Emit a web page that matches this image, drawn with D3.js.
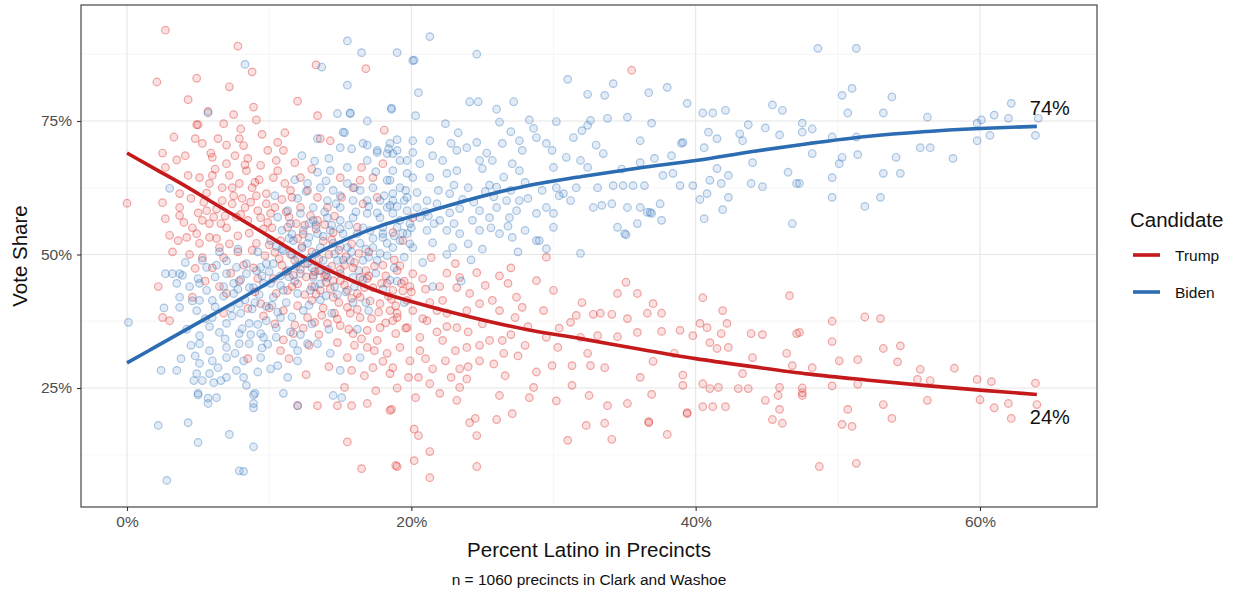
<!DOCTYPE html>
<html>
<head>
<meta charset="utf-8">
<script src="https://cdn.jsdelivr.net/npm/d3@7"></script>
<style>
  body { margin: 0; background: #fff; }
  svg text { font-family: "Liberation Sans", Arial, sans-serif; }
</style>
</head>
<body>
<div id="chart"></div>
<script>
// ------------------------------------------------------------------
//  Vote share vs percent Latino, precinct scatter with smoothed fits
// ------------------------------------------------------------------

const candidates = ["Trump", "Biden"]

// [percent latino, vote share] per precinct
const trumpPoints = [
  [0,59.6],[2.1,82.3],[2.7,92],[2.5,69],[3.5,67.7],[2.7,66.3],[2.5,59.7],[3.7,61.4],[3.7,58.8],[3.7,57.3],[2.7,56.7],[3,53.6],[3.6,52.6],[4.2,53.2],[4.3,64.8],[4.9,74.3],[4.3,79],[4.9,83],[4.8,71.7],[4.9,53.9],[4.8,47.4],[4.6,42],[3,37.6],[2.5,38.2],[2.2,44],[3.2,50.5],[4.0,56],[4.5,60.5],[4.1,68.5],[3.3,72],
  [5.3,70.8],[6.4,71.7],[6,68.2],[7,67],[7.9,71.7],[8.2,70.4],[7.6,68.5],[8.4,65.7],[9.4,66.7],[9.9,69.5],[5.1,64.4],[5.8,63.3],[6.7,62.5],[7.9,63.3],[8.8,62.5],[9.1,61],[9.8,61.4],[9.8,59.5],[8.3,58.8],[7.4,59.5],[6.7,60.1],[5.6,58.2],[5.3,56.4],[5.8,55.8],[5.8,53.2],[5.1,52.1],[6.5,51.3],[6.8,49.4],[5.3,49.4],[8.5,56.4],[9.4,56.9],[9.1,52.1],[7,42.7],[8.5,39.9],[9.4,40.8],[8.5,30.5],[7.8,89],[7.2,81.4],[8.8,84.2],[8.9,77.6],[9.1,75.2],[5,74.3],[5.7,76.8],[6.8,74.5],[7.5,76.2],[8.0,73.5],[9.5,72.5],[6.2,66.0],[7.2,64.8],[8.1,60.5],[6.1,57.0],[7.0,55.0],[7.8,53.5],[8.6,54.0],[9.6,54.8],[6.0,47.5],[7.3,46.5],[8.2,48.0],[9.2,45.5],[5.5,45.0],[6.5,44.0],[7.8,50.5],[8.8,50.8],[9.7,49.8],[9.0,43.0],[6.8,39.0],[5.6,61.5],[9.3,64.0],[8.5,68.0],[7.0,70.5],[5.9,69.0],[6.3,53.0],
  [6.3,58.5],[6.9,57.2],[7.5,61.0],[8.0,57.5],[8.7,59.8],[9.2,58.2],[9.9,56.0],[7.9,45.0],[7.2,52.0],[6.6,55.8],[9.0,63.5],[8.3,66.8],[7.4,62.5],[6.0,64.8],[5.4,59.8],[4.6,55.0],[4.4,50.0],[5.0,57.8],[7.7,57.0],[8.9,47.5],[9.6,38.5],
  [10.6,71],[11.1,72.8],[10.5,67.6],[10.6,65.7],[11.8,67.2],[13.4,76],[13.6,71.7],[14.3,71.3],[10.1,57.7],[11.3,55.1],[10.8,52.6],[10.4,50.4],[10.3,64.4],[11.1,63.3],[11.6,60.7],[12.2,64.4],[12.7,62],[13.4,60.7],[12.2,58.8],[14.1,58.8],[13.4,56.4],[14.5,54.1],[12.7,48.3],[13.6,47],[14.5,45.1],[13.6,43.3],[14.5,42],[13,41.4],[12.7,38.2],[13.2,37.3],[14.1,37.1],[11.7,35.2],[10.8,32],[12,40.4],[10.5,42.7],[11.3,43.3],[10.3,45.5],[11.7,46.1],[13.1,46.1],[12,21.7],[13.4,21.7],[14.8,21.7],[12,78.7],[13.3,85.5],[11.2,58.0],[12.5,55.5],[13.8,52.5],[11.5,50.0],[12.3,51.5],[14.2,50.0],[10.9,48.0],[12.0,44.5],[13.0,44.0],[14.0,44.8],[11.0,39.5],[12.5,42.5],[13.8,40.0],[14.6,39.0],[11.8,36.8],[13.5,35.0],[14.8,33.5],[12.8,33.0],[10.4,37.0],[11.4,30.5],[14.2,29.0],[12.6,27.5],[13.2,46.8],[14.4,47.8],[11.6,44.0],[12.2,47.2],[10.2,55.0],[14.6,57.2],[13.0,66.0],[11.0,69.5],
  [10.4,58.8],[10.9,60.3],[11.4,57.0],[11.9,55.8],[12.4,53.8],[12.9,57.3],[13.3,54.8],[13.9,55.6],[14.4,52.8],[14.9,50.8],[10.0,51.8],[10.7,49.2],[11.2,46.8],[11.8,48.9],[12.6,45.8],[13.3,42.6],[13.9,45.9],[14.3,43.6],[14.9,41.0],[13.7,38.6],[12.4,36.2],[14.8,37.9],[11.0,34.0],[10.0,40.0],[11.5,62.0],[12.0,53.0],[13.0,50.5],[13.5,49.2],[14.0,46.2],
  [15,64.4],[15.9,62.5],[15.1,60.7],[16.6,59.5],[16.4,63.9],[17.3,64.4],[17.6,60.7],[16.2,55.1],[18.7,54.1],[19.4,52.6],[20.1,56.9],[18,67],[16.5,66.3],[18.1,73.3],[15.5,43.3],[16.4,42],[15.7,39],[16.4,38.2],[15,36.7],[16.9,35.8],[15.9,35.2],[17.8,36.3],[18.7,37.6],[18.9,35.2],[17.6,33.9],[16.9,32.6],[18.3,31.5],[19.2,32.6],[19.9,30.1],[18.7,28.8],[17.3,28.8],[16.7,27.3],[18.5,27.7],[19.8,27],[15.8,28.3],[15.3,25.1],[18.5,20.8],[16.9,22.1],[15.8,21.7],[15,45.1],[16.4,45.7],[17.3,43.8],[18.7,43.3],[19.7,41.4],[17.8,40.8],[15.5,40.1],[16.2,42.7],[15.5,30.7],[15.5,14.9],[16.5,9.9],[18.9,10.5],[16.8,84.8],[15.3,48.0],[16.8,47.0],[18.2,46.0],[19.5,45.0],[17.0,50.5],[18.8,49.0],[15.8,52.0],[19.0,39.0],[17.2,38.0],[19.6,36.2],[16.0,33.0],[18.0,30.0],[19.0,25.0],[17.5,24.5],
  [15.4,49.6],[15.9,47.5],[16.3,50.2],[16.9,45.5],[17.4,47.8],[17.9,44.6],[18.4,42.2],[18.9,40.4],[19.4,43.2],[19.9,44.0],[15.3,44.3],[15.8,41.8],[16.2,39.7],[16.7,43.8],[17.1,41.3],[17.7,39.2],[18.2,37.2],[18.6,41.6],[15.6,36.0],[16.5,34.2],[17.4,32.0],[15.0,47.2],[16.0,48.5],[17.0,46.0],[18.0,48.0],[19.0,47.0],
  [21.3,41],[22.2,41.4],[22.5,39],[21.1,37.6],[19.3,44.6],[18.3,44.6],[20.1,46.4],[20.8,45.5],[19.2,47.9],[23.2,43.8],[24.1,42.7],[26.2,46],[26.8,44.6],[24.6,46.6],[23.4,45.7],[23.1,48.3],[21.4,49.4],[28.8,45.1],[30,43.3],[27.4,42],[27.8,40.1],[27.3,38.2],[29.3,39.5],[25.7,41.4],[24.8,40.8],[23.9,39.5],[23.2,36.3],[22.2,33.9],[23.1,32],[23.9,32.6],[24.8,33],[24.8,30.1],[25.5,33.9],[26.4,33.9],[26.6,27.3],[23.4,28.6],[22.4,30.1],[21.5,28.6],[21.3,25.8],[23.4,25.1],[23.9,26.7],[20.6,34.5],[20.6,32],[19.7,36.3],[19,38.2],[18.5,39.5],[20.1,39.5],[29.5,34.5],[30.3,32.6],[29.9,29.2],[28.6,25.1],[28.3,23.2],[26.2,23.6],[27.1,20.2],[26,19.1],[24.5,19.3],[24.1,18.5],[23.2,22.7],[18.6,21],[20.3,23.2],[20.5,16.1],[20.2,11.4],[19,10.3],[24.6,10.3],[21.3,8.2],[20.2,17.3],[21.3,13.1],[24.6,16.1],[22.0,44.0],[25.2,44.2],[27.0,47.5],[21.8,35.5],[25.0,37.0],[26.2,39.5],[28.2,36.5],[22.8,27.0],[25.8,29.5],[27.5,31.0],[28.8,28.0],[35.5,84.5],[29.5,49.5],
  [20.0,43.0],[21.0,43.5],[22.5,46.5],[21.8,39.5],[20.8,38.0],[22.5,36.5],[24.0,35.5],[21.0,30.5],[24.0,29.0],[20.5,27.0],[22.0,24.0],[26.5,31.5],[27.0,35.0],[28.0,33.0],
  [35.1,44.8],[34.5,42.7],[35.9,42.7],[37,40.8],[37.6,39],[36.6,39],[32.8,38.8],[33.3,39],[34.1,38.8],[35.2,38],[38.9,35.8],[39.8,34.8],[37.6,35.6],[35.9,35.4],[34.5,34.6],[33.1,34.8],[31.6,38.6],[31.2,37.3],[30.4,36.2],[32.4,31.5],[31.3,29.2],[32.6,29.2],[33.6,28.8],[36.1,27],[39.1,27.4],[39.1,25.5],[36.9,23.8],[35.2,22.1],[33.8,21.7],[32.5,23.6],[31.3,25.5],[30.2,22.6],[31,15.2],[32.3,18],[33.6,18.4],[34.1,15.4],[36.7,18.5],[38,16.3],[39.4,20.4],[31.9,34.5],[40.5,41.9],[41.9,39.5],[40.3,37.1],[40.8,36.3],[42.2,37.1],[43.9,35.2],[44.7,35],[47.1,35.2],[41.8,35.2],[41,33.5],[42.3,32.6],[41.5,32.4],[44,30.7],[46.4,31.5],[46.8,29.2],[43.3,27.7],[40.5,25.8],[41,24.9],[41.6,25.1],[43,24.9],[43.7,24.9],[45.9,25.1],[45.8,23.6],[47.5,23.6],[44.9,22.7],[45.9,21],[45.4,19.1],[46.1,18.4],[40.5,21.5],[41.2,21.5],[42.1,21.5],[39.4,20.2],[36.7,18.7],[32.0,41.0],[38.5,31.5],[37.0,30.0],[46.6,42.3],
  [49.6,37.5],[51.9,38.3],[53,38],[49.6,33.7],[53.2,32.4],[54.4,32.9],[54.2,29.9],[50.1,30.1],[51.4,30.3],[55.8,28.5],[58.2,28.7],[59.8,26.6],[60.8,26.2],[63.9,25.9],[49.6,25.4],[51.4,25.7],[53.2,21.9],[50.7,21],[53.8,19.3],[50.3,18.2],[51,17.8],[56.3,22.7],[60,22.8],[61,21.3],[62,22.1],[62.2,19.3],[64,21.9],[48.7,10.3],[51.3,10.9],[47.5,25],[47.5,24.1],[47.3,35.4],[48.2,28.8],[55.6,26.6],[56.5,26.4]
]

const bidenPoints = [
  [0.1,37.3],[2.4,28.3],[3.5,28.3],[2.2,18],[4.3,18.5],[5,14.8],[2.8,7.7],[3.2,46.4],[3.9,46.1],[2.7,46.4],[3.5,44.6],[3.7,42],[3.7,40.1],[4.9,39.5],[4.7,26.4],[3,62.4],[3.7,46.4],[2.6,40.0],[4.2,36.0],[4.5,33.0],[3.8,30.5],[4.4,44.0],[4.1,48.5],[4.8,31.0],
  [5.3,48.9],[5.1,44.6],[5.6,43.3],[5.1,41.4],[6,41.4],[7,46.4],[7.7,47.6],[8.4,48.3],[9.1,47],[9.6,44.6],[8.6,43.8],[7.5,42.7],[7.9,40.8],[6,38.2],[7,37.1],[8.6,37.1],[9.8,37.6],[9.4,35.2],[7.9,35.2],[6.5,35.4],[5.1,34.8],[5.1,33.3],[5.8,32],[7,32.6],[7.9,33.3],[8.6,33.3],[9.6,34.5],[9.4,30.7],[8.2,30.1],[7,30.7],[6,30.1],[5.1,29.6],[4.9,27.7],[5.8,27.7],[7,27],[7.7,28.3],[8.2,27],[6.3,23.2],[5,24],[5.7,22.1],[9,24],[8.9,22.1],[5,23.7],[5.7,23.1],[8.9,23.7],[8.9,21.3],[5.3,26.4],[6.1,26],[6.6,26.4],[7.2,16.3],[8.9,14],[7.9,9.5],[8.2,9.4],[9.4,47.6],[8.4,46.4],[5.6,47.6],[7.5,44.6],[8.9,43.8],[9.8,48.3],[8.3,85.6],[5.7,76.5],[6.5,50.5],[7.8,51.0],[9.2,50.5],[8.0,39.0],[9.0,41.0],[6.8,44.0],[5.8,36.5],[9.5,32.5],[6.4,28.8],[9.2,28.0],[8.4,25.5],[7.4,38.5],[6.2,45.8],
  [6.2,40.2],[6.8,42.2],[7.3,40.0],[7.8,43.5],[8.3,41.5],[8.8,39.8],[9.3,42.5],[9.8,40.3],[8.1,36.1],[8.7,35.0],[9.2,36.9],[9.9,33.2],[6.9,34.2],[7.6,31.5],[5.5,38.0],[4.6,41.3],[5.0,45.5],[6.3,48.0],[7.0,48.8],[8.0,45.3],[9.5,46.0],
  [10.5,36.3],[10.5,34.5],[10.1,28.6],[10.6,29.2],[11.3,27],[12,30.1],[12,32],[12.7,33.3],[11.7,33.3],[10.8,38.2],[11,24],[12,21.7],[14.5,23.6],[14.3,31.5],[13.4,33.3],[13.4,65.4],[14.3,65.7],[14.8,76.4],[12.7,63.3],[13.6,62.5],[14.5,62],[13.1,58.8],[12.2,57.7],[13.1,56.4],[14.1,56.9],[14.1,60.1],[11.3,58.2],[11.5,55.8],[12.4,54.5],[13.4,53.9],[14.3,54.5],[11.7,52.6],[12.7,52.1],[13.6,51.3],[14.5,52.1],[11,50.7],[12,49.4],[12.9,49.4],[13.8,48.9],[14.8,48.9],[10.3,48.3],[11.3,47],[12.2,46.4],[13.1,45.7],[14.1,45.7],[10.1,44.6],[11,43.3],[12,42.7],[12.9,43.3],[13.4,71.7],[13.7,85.1],[10.8,46.0],[11.8,45.0],[13.5,47.0],[14.6,44.0],[10.5,51.5],[11.6,53.8],[12.8,55.8],[13.9,58.0],[10.9,54.5],[12.0,60.5],[14.0,63.8],[11.2,41.0],[12.4,39.5],[13.6,41.5],[14.4,39.0],[10.2,40.5],[13.0,37.0],[14.2,36.0],[11.5,35.5],[12.6,61.8],[10.6,57.0],[14.7,59.5],[13.2,67.5],[11.8,64.0],[10.4,61.0],[12.3,68.5],
  [10.3,42.0],[10.8,44.2],[11.4,45.8],[11.9,47.8],[12.5,48.3],[13.0,47.5],[13.6,44.5],[14.1,47.2],[14.6,50.1],[10.6,39.2],[11.6,38.3],[12.2,35.0],[12.8,40.5],[13.2,44.0],[14.0,42.3],[14.8,42.5],[10.1,52.6],[10.9,51.0],[11.4,53.0],[12.3,51.2],[12.8,53.2],[13.3,55.5],[13.8,53.4],[14.4,55.5],[10.0,46.8],[11.6,50.0],[13.3,50.2],[14.2,68.0],
  [15.5,66.3],[16.9,67.6],[17.6,69.5],[18.7,68.9],[19.7,67.6],[18.5,70.8],[15,70],[15.8,69.8],[15.7,76.4],[15.3,72.8],[16.6,70.8],[15.5,63.3],[16.4,62],[17.3,62.5],[18.3,63.9],[19.2,62.5],[20.1,64.4],[19.7,60.7],[18.7,60.1],[17.8,60.1],[16.9,60.1],[15.9,60.1],[15,58.8],[15,56.4],[15.9,56.9],[16.9,57.7],[17.8,56.9],[18.7,57.7],[19.7,58.2],[15.2,53.9],[16.2,53.9],[17.1,54.5],[18,53.9],[19,55.1],[19.9,55.8],[15.5,51.3],[16.4,52.1],[17.3,51.3],[18.3,52.1],[19.2,52.6],[15.7,48.9],[16.6,48.9],[17.6,48.9],[15,46.4],[15.9,45.7],[15,28.3],[16.4,30.7],[15.1,23.2],[15.5,90],[16.5,87.8],[19,87.8],[20.1,86.3],[15.5,81.7],[18.6,77.2],[15.7,76.5],[16.9,75],[15.2,72.9],[16.9,70.5],[17.6,69.1],[18.6,77.4],[18.4,69.8],[19,69.5],[18.3,68.9],[19.2,67.6],[18.7,65.7],[18.5,63.9],[19.7,65.2],[18.3,58.8],[19.2,56.4],[18,55.1],[18,53.2],[18.7,51.3],[16.0,44.0],[17.5,46.5],[18.8,47.5],[19.5,49.5],[16.8,41.0],[18.0,43.5],[19.0,45.0],[17.0,39.5],[19.5,41.0],[16.2,36.0],
  [15.2,49.0],[15.8,50.5],[16.3,47.0],[16.8,51.0],[17.3,53.0],[17.8,50.2],[18.3,49.8],[18.8,53.5],[19.4,54.0],[19.9,52.0],[15.4,43.0],[15.9,41.0],[16.6,45.3],[15.0,54.8],[15.6,55.5],[16.1,58.0],[16.6,55.0],[17.0,59.0],[17.6,57.8],[18.1,61.0],[18.5,59.2],[19.0,59.0],[19.6,62.0],[15.0,51.5],[17.0,49.5],[18.5,45.2],[16.0,62.5],[17.5,65.5],[15.0,61.0],[19.0,71.5],
  [20.5,80.3],[24.1,78.6],[24.7,78.6],[26,77.2],[27.2,78.6],[26.2,74.8],[28.3,75.2],[21.3,90.8],[24.6,87.5],[20.2,86.4],[28.6,73.6],[28.8,71.9],[29.5,70.8],[29.9,69.5],[26.4,70.8],[27.6,71.3],[27.8,69.5],[24.6,71],[23.3,72.8],[21.3,71.3],[20.1,71.3],[20.1,69.1],[23.2,69.5],[23.9,70],[22.2,67.6],[24.8,67.6],[25.7,67.6],[27.1,67],[23.2,65.7],[22.5,65.2],[25,66.1],[27.6,65.7],[28,63.5],[20.6,67],[21.3,64.4],[28.8,57.7],[29.5,58.8],[27.4,58.2],[26.7,60.1],[27.6,60.1],[26.9,56.9],[26,58.8],[25.5,56.9],[24.8,58.2],[24.3,56.4],[23.4,58.6],[22.7,61.4],[21.9,62],[21.1,60.1],[20.4,61.6],[19.5,60.1],[18.7,61.4],[20.6,56.9],[22,56.4],[22.5,54.5],[23.4,53.9],[24.8,54.5],[26.2,53.9],[27.1,53.2],[21.1,54.5],[19.7,53.9],[20.1,51.3],[21.5,52.2],[22.9,51.3],[28.8,52.6],[29.5,51.1],[29,52.6],[30,57.7],[30,55.1],[24.0,62.5],[25.5,63.0],[26.5,64.5],[23.0,63.0],[21.0,58.0],[22.5,50.0],[25.0,51.0],[27.5,50.5],[20.8,48.5],[24.2,49.0],[23.5,45.0],[21.5,44.0],[20.3,76.0],[22.4,74.5],[25.8,60.8],
  [20.4,58.8],[21.2,57.2],[21.8,59.5],[22.7,57.8],[23.6,60.3],[24.4,59.8],[25.2,61.8],[26.0,62.6],[27.0,62.0],[28.2,60.5],[29.2,62.0],[20.0,55.0],[21.6,55.8],[23.0,55.8],[24.0,52.0],[25.6,55.0],[26.8,55.3],[28.0,54.5],[21.5,68.5],[22.8,70.8],[25.3,69.0],[27.0,73.0],
  [30.2,74.9],[31,82.8],[32.4,80],[33.6,79.8],[34.2,82],[36.7,80.3],[38,81.3],[39.4,78.3],[32.6,75.1],[33.8,75.5],[35.2,75.7],[36.9,74.6],[31.4,71.9],[32,73.2],[32.4,74.2],[30.9,68.2],[31.9,67.6],[32.4,66.3],[33.5,68.9],[36.1,71.3],[39.1,71],[38.3,68.5],[37.1,68],[36.1,67.2],[30,66.3],[30.2,62.5],[30.7,61.4],[31.6,62.5],[33.1,62.5],[34.2,62.9],[34.9,62.9],[35.6,62.9],[36.4,62.9],[37.7,64.8],[38.4,65.2],[38.9,62.9],[39.8,62.9],[32.8,58.8],[33.4,59.2],[34.1,59.5],[35.2,58.8],[36.1,58.8],[37.5,59.5],[36.6,57.9],[36.9,57.7],[34.5,55.1],[35,53.9],[35.9,55.8],[37.6,56.4],[30.4,61],[31.2,60.1],[31.9,50.2],[40.5,76.5],[41.2,76.5],[42.1,77],[43.7,74.3],[44.9,73.7],[45.4,78],[46.1,77],[45.9,72.4],[47.5,74.6],[47.5,72.9],[40.9,72.9],[41.5,71.7],[43.1,72.6],[43.3,71.3],[39,70.8],[40.6,70],[41.5,66.1],[42.3,64.8],[44,67.2],[46.5,65.4],[41,63.9],[41.8,63.3],[43.9,63.3],[44.7,62.7],[47.1,63.3],[40.8,61.4],[40.3,60.3],[42.3,60.7],[41.9,58.4],[40.6,56.7],[46.8,55.8],[35.1,53.7],[36.8,57.9],[47.3,63.3],[33.0,70.5],[34.8,66.0],
  [48.6,88.6],[51.3,88.6],[50.3,79.8],[51,81.1],[53.8,79.5],[50.7,76.5],[53.2,76.5],[56.3,75.7],[62.2,78.3],[62,75.5],[61,76.1],[60.1,75.2],[59.8,74.6],[59.8,71.3],[60.7,72.3],[64.1,75.5],[63.9,72.3],[55.8,70],[56.5,70],[58.1,68],[49.6,72],[51.3,72],[48.2,68.9],[50.3,68.2],[50.1,67],[51.4,68.7],[54.1,68.2],[49.6,64.4],[53.2,65.2],[54.4,65.2],[49.6,60.7],[53,60.7],[51.9,59],[48.2,73.5]
]

// smoothed fit
const fitX = [0, 2, 4, 6, 8, 10, 12, 14, 16, 18, 20, 24, 28, 32, 36, 40, 44, 48, 52, 56, 60, 64]
const trumpFit = [69, 66, 63, 59.8, 56.6, 53.4, 50.2, 47.3, 44.9, 42.8, 41.2, 38.4, 36.0, 34.2, 32.3, 30.5, 29.0, 27.6, 26.5, 25.5, 24.6, 23.8]
const bidenFit = [29.7, 32.7, 35.7, 38.7, 41.7, 44.8, 48.1, 51.1, 53.5, 55.5, 57.1, 60.2, 62.8, 64.6, 66.2, 67.6, 69.3, 70.8, 72.1, 73.0, 73.6, 74.0]
const endLabels = ["24%", "74%"]

const xTicks = [0, 20, 40, 60]
const xMinor = [10, 30, 50]
const yTicks = [25, 50, 75]
const yMinor = [12.5, 37.5, 62.5, 87.5]

// ------------------------------------------------------------------
const W = 1238, H = 592
const panel = { left: 81, right: 1097, top: 5, bottom: 507 }
const colors = {
    Trump: { pt: "#de2d2a", line: "#c41a1c" },
    Biden: { pt: "#3a7abd", line: "#2b6cb2" }
}

const x = d3.scaleLinear().domain([-3.236, 68.23]).range([panel.left, panel.right])
const y = d3.scaleLinear().domain([2.72, 96.72]).range([panel.bottom, panel.top])

const svg = d3.select("#chart").append("svg")
    .attr("width", W)
    .attr("height", H)

// grid
const grid = svg.append("g")
grid.selectAll(".minx").data(xMinor).enter().append("line")
    .attr("x1", d => x(d)).attr("x2", d => x(d))
    .attr("y1", panel.top).attr("y2", panel.bottom)
    .attr("stroke", "#f0f0f0").attr("stroke-width", 0.6)
grid.selectAll(".miny").data(yMinor).enter().append("line")
    .attr("y1", d => y(d)).attr("y2", d => y(d))
    .attr("x1", panel.left).attr("x2", panel.right)
    .attr("stroke", "#f0f0f0").attr("stroke-width", 0.6)
grid.selectAll(".majx").data(xTicks).enter().append("line")
    .attr("x1", d => x(d)).attr("x2", d => x(d))
    .attr("y1", panel.top).attr("y2", panel.bottom)
    .attr("stroke", "#e6e6e6").attr("stroke-width", 1.1)
grid.selectAll(".majy").data(yTicks).enter().append("line")
    .attr("y1", d => y(d)).attr("y2", d => y(d))
    .attr("x1", panel.left).attr("x2", panel.right)
    .attr("stroke", "#e6e6e6").attr("stroke-width", 1.1)

// points
const pts = svg.append("g")
function drawPoints(data, c) {
    pts.append("g").selectAll("circle").data(data).enter().append("circle")
        .attr("cx", d => x(d[0]))
        .attr("cy", d => y(d[1]))
        .attr("r", 3.8)
        .attr("fill", colors[c].pt)
        .attr("fill-opacity", 0.14)
        .attr("stroke", colors[c].pt)
        .attr("stroke-opacity", 0.4)
        .attr("stroke-width", 1.2)
}
drawPoints(trumpPoints, "Trump")
drawPoints(bidenPoints, "Biden")

// fitted lines
const line = d3.line()
    .x(d => x(d[0]))
    .y(d => y(d[1]))
    .curve(d3.curveMonotoneX)

const fits = { Trump: trumpFit, Biden: bidenFit }
candidates.forEach(function (c) {
    svg.append("path")
        .datum(fitX.map((v, i) => [v, fits[c][i]]))
        .attr("d", line)
        .attr("fill", "none")
        .attr("stroke", colors[c].line)
        .attr("stroke-width", 3.6)
})

// end labels
const last = fitX.length - 1
svg.append("text")
    .attr("x", x(fitX[last]) - 7)
    .attr("y", y(bidenFit[last]) - 11)
    .attr("font-size", 20)
    .attr("fill", "#111")
    .text(endLabels[1])
svg.append("text")
    .attr("x", x(fitX[last]) - 7)
    .attr("y", y(trumpFit[last]) + 30)
    .attr("font-size", 20)
    .attr("fill", "#111")
    .text(endLabels[0])

// panel border
svg.append("rect")
    .attr("x", panel.left).attr("y", panel.top)
    .attr("width", panel.right - panel.left)
    .attr("height", panel.bottom - panel.top)
    .attr("fill", "none")
    .attr("stroke", "#333")
    .attr("stroke-width", 1.1)

// axes
const xAxis = svg.append("g")
    .attr("transform", "translate(0," + panel.bottom + ")")
    .call(d3.axisBottom(x).tickValues(xTicks).tickSize(4).tickPadding(5).tickFormat(d => d + "%"))
const yAxis = svg.append("g")
    .attr("transform", "translate(" + panel.left + ",0)")
    .call(d3.axisLeft(y).tickValues(yTicks).tickSize(4).tickPadding(5).tickFormat(d => d + "%"))
;[xAxis, yAxis].forEach(function (g) {
    g.select(".domain").remove()
    g.selectAll(".tick line").attr("stroke", "#333").attr("stroke-width", 1.1)
    g.selectAll(".tick text")
        .attr("fill", "#4d4d4d")
        .attr("font-size", 15.5)
        .style("font-family", "'Liberation Sans', Arial, sans-serif")
})

// axis titles
svg.append("text")
    .attr("x", (panel.left + panel.right) / 2)
    .attr("y", 557)
    .attr("text-anchor", "middle")
    .attr("font-size", 20.5)
    .attr("fill", "#111")
    .text("Percent Latino in Precincts")
svg.append("text")
    .attr("transform", "translate(27," + ((panel.top + panel.bottom) / 2) + ") rotate(-90)")
    .attr("text-anchor", "middle")
    .attr("font-size", 20.5)
    .attr("fill", "#111")
    .text("Vote Share")
svg.append("text")
    .attr("x", (panel.left + panel.right) / 2)
    .attr("y", 585)
    .attr("text-anchor", "middle")
    .attr("font-size", 15.5)
    .attr("fill", "#111")
    .text("n = 1060 precincts in Clark and Washoe")

// legend
const legend = svg.append("g").attr("transform", "translate(1130,0)")
legend.append("text")
    .attr("x", 0).attr("y", 227)
    .attr("font-size", 20.5)
    .attr("fill", "#111")
    .text("Candidate")
candidates.forEach(function (c, i) {
    const ly = 255 + i * 37
    legend.append("line")
        .attr("x1", 3).attr("x2", 30)
        .attr("y1", ly).attr("y2", ly)
        .attr("stroke", colors[c].line)
        .attr("stroke-width", 3.6)
    legend.append("text")
        .attr("x", 45).attr("y", ly + 5.5)
        .attr("font-size", 15.5)
        .attr("fill", "#111")
        .text(c)
})
</script>
</body>
</html>
